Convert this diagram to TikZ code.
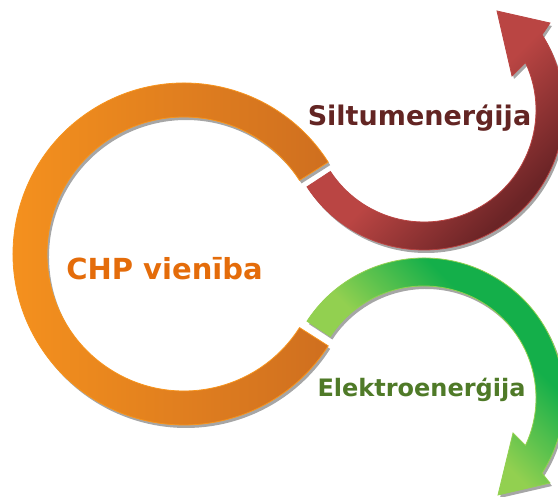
\documentclass[tikz,border=0pt]{standalone}
\usepackage{fontspec}
\setmainfont{DejaVu Sans}
\usetikzlibrary{calc}
\definecolor{orangeL}{HTML}{F7931E}
\definecolor{orangeD}{HTML}{CF6F1F}
\definecolor{orangeE}{HTML}{F7941D}
\definecolor{redL}{HTML}{BA4543}
\definecolor{redD}{HTML}{6B2426}
\definecolor{greenL}{HTML}{92D050}
\definecolor{greenD}{HTML}{14AF4A}
\definecolor{chptext}{HTML}{E46C0A}
\definecolor{heattext}{HTML}{632523}
\definecolor{powertext}{HTML}{4F7A28}
\definecolor{shadowgray}{HTML}{A6A6A6}
\pgfdeclarehorizontalshading{redband}{100bp}{color(0bp)=(redL); color(48bp)=(redL); color(68bp)=(redD); color(100bp)=(redD)}
\pgfdeclarehorizontalshading{greenband}{100bp}{color(0bp)=(greenL); color(45bp)=(greenL); color(62bp)=(greenD); color(100bp)=(greenD)}
\tikzset{
  band/.style={line width=0.8pt, preaction={fill=shadowgray, transform canvas={shift={(2pt,-3pt)}}}},
  bandtext/.style={font=\bfseries\fontsize{#1}{32}\selectfont, anchor=base},
  bandtext/.default=26
}

\begin{document}
\begin{tikzpicture}[x=1pt,y=1pt]
\useasboundingbox (0,0) rectangle (558,497);
%orange ring
\coordinate (oc) at (184,243);
\shade[band, left color=orangeL, right color=orangeD, draw=orangeE]
  ([shift={(32.5:171)}]oc) arc[start angle=32.5, end angle=327.5, radius=171]
  -- ([shift={(327.5:137)}]oc) arc[start angle=327.5, end angle=32.5, radius=137] -- cycle;
%red arrow
\coordinate (rc) at (424,387);
\shade[band, shading=redband, shading angle=-45, draw=redL]
  ([shift={(213.3:140)}]rc) arc[start angle=213.3, end angle=392.5, radius=140]
  -- (550,474) -- (497,486) -- (512,421)
  -- ([shift={(385:112)}]rc) arc[start angle=385, end angle=213.3, radius=112] -- cycle;
%green arrow
\coordinate (gc) at (424,99);
\shade[band, shading=greenband, shading angle=45, draw=greenL]
  ([shift={(146.7:140)}]gc) arc[start angle=146.7, end angle=-32.5, radius=140]
  -- (550,14) -- (498,2) -- (513,64)
  -- ([shift={(-25:112)}]gc) arc[start angle=-25, end angle=146.7, radius=112] -- cycle;
%labels
\node[bandtext=29, text=chptext] (chp) at (164.5,217) {CHP vienība};
\node[bandtext=27, text=heattext] (heat) at (419.5,371) {Siltumenerģija};
\node[bandtext=24, text=powertext] (power) at (421.5,100) {Elektroenerģija};
\end{tikzpicture}
\end{document}
